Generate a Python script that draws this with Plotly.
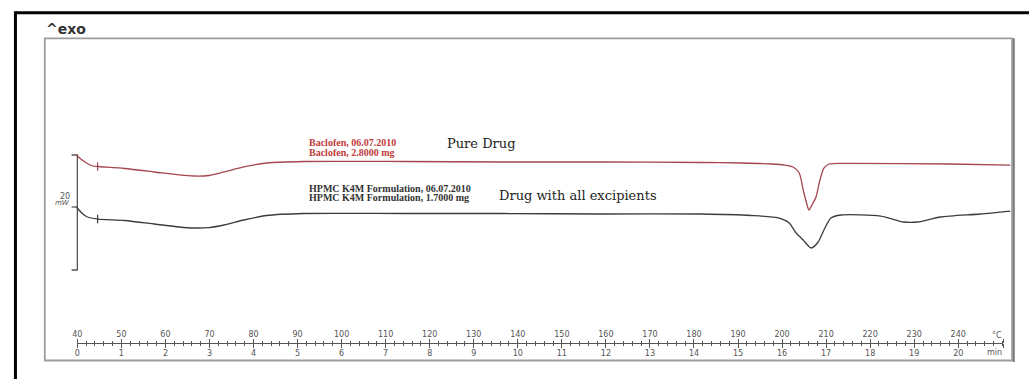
import plotly.graph_objects as go

W, H = 1029, 379

# Baclofen (pure drug): heat flow (mW) against temperature (°C)
bac_temp = [39.8, 40.5, 42.1, 43.5, 44.6, 50.7, 57.5, 63.1, 66.5, 69.9, 73.3, 77.8, 83.0, 91.4,
            114.0, 136.6, 159.1, 181.7, 190.8, 197.6, 200.5, 202.5, 203.9, 204.8, 205.5, 206.1,
            206.8, 207.7, 208.6, 209.5, 210.7, 215.6, 238.2, 251.8]
bac_mw = [9.04, 8.52, 7.65, 7.13, 7.04, 6.70, 6.09, 5.57, 5.39, 5.48, 6.09, 6.96, 7.65, 7.91,
          7.91, 7.83, 7.83, 7.74, 7.65, 7.48, 7.30, 6.96, 5.91, 2.96, 0.87, -0.52,
          0.35, 1.74, 4.70, 6.78, 7.48, 7.57, 7.48, 7.30]

# HPMC K4M formulation (drug with all excipients)
form_temp = [39.8, 41.0, 42.3, 44.6, 50.7, 57.5, 63.1, 66.5, 69.9, 73.3, 77.8, 83.0, 91.4,
             114.0, 136.6, 159.1, 181.7, 193.0, 199.1, 201.6, 203.2, 204.8, 206.6, 208.2,
             209.5, 211.1, 213.4, 222.4, 227.6, 230.8, 236.0, 245.0, 251.8]
form_mw = [0.0, -1.04, -1.74, -2.09, -2.35, -2.96, -3.48, -3.65, -3.57, -3.13, -2.26, -1.48, -1.13,
           -1.13, -1.13, -1.22, -1.22, -1.48, -1.91, -2.78, -4.52, -5.74, -7.13, -6.09,
           -4.00, -1.91, -1.39, -1.57, -2.61, -2.61, -1.74, -1.22, -0.70]

# evaluation start temperature marked on both curves
eval_start = 44.6

# ruler ticks: furnace temperature (°C) and time (min) at 10 °C/min
temp_ticks = list(range(40, 250, 10))
min_ticks = list(range(0, 21))
scale_bar_mw = 20

# pixel scale of the drawing
PX_PER_C = 4.426
X40 = 72.7
PX_PER_MW = 5.75
Y_ZERO = 207.0

t_lo = 40 - X40 / PX_PER_C
t_hi = 40 + (W - X40) / PX_PER_C
mw_lo = (Y_ZERO - H) / PX_PER_MW
mw_hi = Y_ZERO / PX_PER_MW
ruler_end = 250.2


def px(x):
    return x / W


def py(y):
    return 1 - y / H


RED = "#a5454f"
DARK = "#3c3c3c"
GREY = "#555555"

fig = go.Figure()

# 20 mW scale bar at the start temperature
bar_top = bac_mw[0]
bar_bot = bar_top - scale_bar_mw
tk = 1.3
fig.add_trace(go.Scatter(
    x=[40 - tk, 40, 40, 40 - tk, None, 40 - tk, 40],
    y=[bar_top, bar_top, bar_bot, bar_bot, None, form_mw[0], form_mw[0]],
    xaxis="x", yaxis="y", mode="lines",
    line=dict(color=GREY, width=1.3), hoverinfo="skip", showlegend=False))

fig.add_trace(go.Scatter(
    x=bac_temp, y=bac_mw, xaxis="x", yaxis="y", mode="lines",
    line=dict(color=RED, width=1.3, shape="spline", smoothing=0.7),
    name="Baclofen", showlegend=False))
fig.add_trace(go.Scatter(
    x=form_temp, y=form_mw, xaxis="x", yaxis="y", mode="lines",
    line=dict(color=DARK, width=1.3, shape="spline", smoothing=0.7),
    name="HPMC K4M Formulation", showlegend=False))

fig.add_trace(go.Scatter(
    x=[eval_start], y=[bac_mw[bac_temp.index(eval_start)]], xaxis="x", yaxis="y",
    mode="markers", marker=dict(symbol="line-ns", size=6, line=dict(color=RED, width=1.2)),
    hoverinfo="skip", showlegend=False))
fig.add_trace(go.Scatter(
    x=[eval_start], y=[form_mw[form_temp.index(eval_start)]], xaxis="x", yaxis="y",
    mode="markers", marker=dict(symbol="line-ns", size=6, line=dict(color=DARK, width=1.2)),
    hoverinfo="skip", showlegend=False))

# placeholders so the ruler axes are laid out
fig.add_trace(go.Scatter(x=[40], y=[0], xaxis="x2", yaxis="y", mode="markers",
                         marker=dict(opacity=0), hoverinfo="skip", showlegend=False))
fig.add_trace(go.Scatter(x=[0], y=[0], xaxis="x3", yaxis="y", mode="markers",
                         marker=dict(opacity=0), hoverinfo="skip", showlegend=False))

ruler_dom = [px(X40), px(X40 + (ruler_end - 40) * PX_PER_C)]
ruler_pos = py(342.7)
tick_font = dict(family="DejaVu Sans", size=8, color=GREY)

fig.update_layout(
    width=W, height=H,
    margin=dict(l=0, r=0, t=0, b=0),
    paper_bgcolor="white", plot_bgcolor="rgba(0,0,0,0)",
    xaxis=dict(domain=[0, 1], range=[t_lo, t_hi], visible=False, fixedrange=True),
    xaxis2=dict(
        domain=ruler_dom, range=[40, ruler_end], anchor="free", position=ruler_pos,
        side="top", showgrid=False, zeroline=False, showline=True,
        linecolor=GREY, linewidth=1,
        tickmode="array", tickvals=temp_ticks + [ruler_end],
        ticktext=[str(t) for t in temp_ticks] + [""],
        ticks="outside", ticklen=4, tickwidth=1, tickcolor=GREY,
        minor=dict(dtick=2, tick0=40, ticks="outside", ticklen=2, tickwidth=1, tickcolor=GREY),
        tickfont=tick_font, ticklabelstandoff=-1, fixedrange=True),
    xaxis3=dict(
        domain=ruler_dom, range=[0, (ruler_end - 40) / 10], anchor="free", position=ruler_pos,
        side="bottom", showgrid=False, zeroline=False, showline=False,
        tickmode="array", tickvals=min_ticks + [(ruler_end - 40) / 10],
        ticktext=[str(m) for m in min_ticks] + [""],
        ticks="outside", ticklen=4, tickwidth=1, tickcolor=GREY,
        minor=dict(dtick=0.2, tick0=0, ticks="outside", ticklen=2, tickwidth=1, tickcolor=GREY),
        tickfont=tick_font, ticklabelstandoff=-1, fixedrange=True),
    yaxis=dict(domain=[0, 1], range=[mw_lo, mw_hi], visible=False, fixedrange=True),
    font=dict(family="DejaVu Sans", color=DARK),
)

# outer frame (left and top edges) and inner chart box
fig.add_shape(type="line", xref="paper", yref="paper", x0=px(10.5), x1=px(W + 5),
              y0=py(12.7), y1=py(12.7), line=dict(color="black", width=3))
fig.add_shape(type="line", xref="paper", yref="paper", x0=px(10.5), x1=px(10.5),
              y0=py(11.2), y1=py(H + 5), line=dict(color="black", width=3))
fig.add_shape(type="rect", xref="paper", yref="paper", x0=px(40), x1=px(1012),
              y0=py(38.3), y1=py(360.5), line=dict(color="#9c9c9c", width=1.8))
fig.add_shape(type="line", xref="paper", yref="paper", x0=px(1013.8), x1=px(1013.8),
              y0=py(38.3), y1=py(362), line=dict(color="#7a7a7a", width=1.8))

ann = [
    dict(text="<b>^exo</b>", x=px(39), y=py(29), xanchor="left",
         font=dict(family="DejaVu Sans", size=14, color="#333333")),
    dict(text="20", x=px(67), y=py(196), xanchor="right",
         font=dict(family="DejaVu Sans", size=8, color=GREY)),
    dict(text="<i>mW</i>", x=px(67), y=py(203), xanchor="right",
         font=dict(family="DejaVu Sans", size=7, color=GREY)),
    dict(text="<b>Baclofen, 06.07.2010</b>", x=px(303), y=py(142.5), xanchor="left",
         font=dict(family="Liberation Serif", size=10, color="#c23a3a")),
    dict(text="<b>Baclofen, 2.8000 mg</b>", x=px(303), y=py(152), xanchor="left",
         font=dict(family="Liberation Serif", size=10, color="#c23a3a")),
    dict(text="Pure Drug", x=px(442), y=py(143.5), xanchor="left",
         font=dict(family="DejaVu Serif", size=13, color="#222222")),
    dict(text="<b>HPMC K4M Formulation, 06.07.2010</b>", x=px(303), y=py(188), xanchor="left",
         font=dict(family="Liberation Serif", size=10, color="#333333")),
    dict(text="<b>HPMC K4M Formulation, 1.7000 mg</b>", x=px(303), y=py(197.5), xanchor="left",
         font=dict(family="Liberation Serif", size=10, color="#333333")),
    dict(text="Drug with all excipients", x=px(494), y=py(195), xanchor="left",
         font=dict(family="DejaVu Serif", size=13, color="#222222")),
    dict(text="°C", x=px(1004), y=py(335), xanchor="right",
         font=dict(family="DejaVu Sans", size=8, color=GREY)),
    dict(text="min", x=px(1004), y=py(352.5), xanchor="right",
         font=dict(family="DejaVu Sans", size=8, color=GREY)),
]
for a in ann:
    fig.add_annotation(xref="paper", yref="paper", yanchor="middle", showarrow=False, **a)

fig.write_html("out.html")
